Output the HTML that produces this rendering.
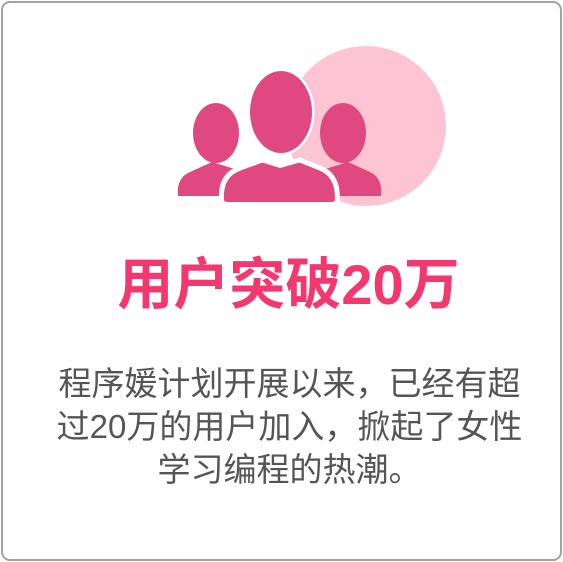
<!DOCTYPE html>
<html><head><meta charset="utf-8"><style>
html,body{margin:0;padding:0;background:#fff;}
#card{position:absolute;left:1px;top:1px;width:557px;height:556px;border:2px solid #a3a3a3;border-radius:9px;background:#fff;overflow:hidden;}
#title{position:absolute;left:0;width:577px;top:255px;height:60px;text-align:center;font:bold 56px/60px "Liberation Sans","Noto Sans CJK SC",sans-serif;color:#f2386e;}
#desc{position:absolute;left:28px;width:523px;top:362px;font:33px/43px "Liberation Sans","Noto Sans CJK SC",sans-serif;color:#555;text-align:center;white-space:nowrap;}
</style></head><body>
<div id="card"></div>
<svg width="563" height="562" style="position:absolute;left:0;top:0">
<circle cx="366" cy="126" r="80" fill="#fdc4d4"/>
<g fill="#e0497f">
<ellipse cx="216" cy="133" rx="23" ry="30"/>
<path d="M178 196 Q176 178 190 172 L212 162 L238 170 L236 196 Z"/>
<ellipse cx="343" cy="133" rx="23" ry="30"/>
<path d="M381 196 Q383 178 370 172 L348 162 L322 170 L324 196 Z"/>
<path d="M222 204 Q218 176 240 168 L262 160 L280 166 L300 160 L320 168 Q340 176 337 204 Z" stroke="#fff" stroke-width="5"/>
<ellipse cx="281" cy="112" rx="32" ry="42" stroke="#fff" stroke-width="3"/>
<path d="M226 202 Q222 178 242 171 L264 163 L280 168 L298 163 L318 171 Q336 178 333 202 Z"/>
<ellipse cx="281" cy="112" rx="31" ry="41"/>
</g>
</svg>
<div id="title">用户突破20万</div>
<div id="desc">程序媛计划开展以来，已经有超<br>过20万的用户加入，掀起了女性<br>学习编程的热潮。</div>
</body></html>
